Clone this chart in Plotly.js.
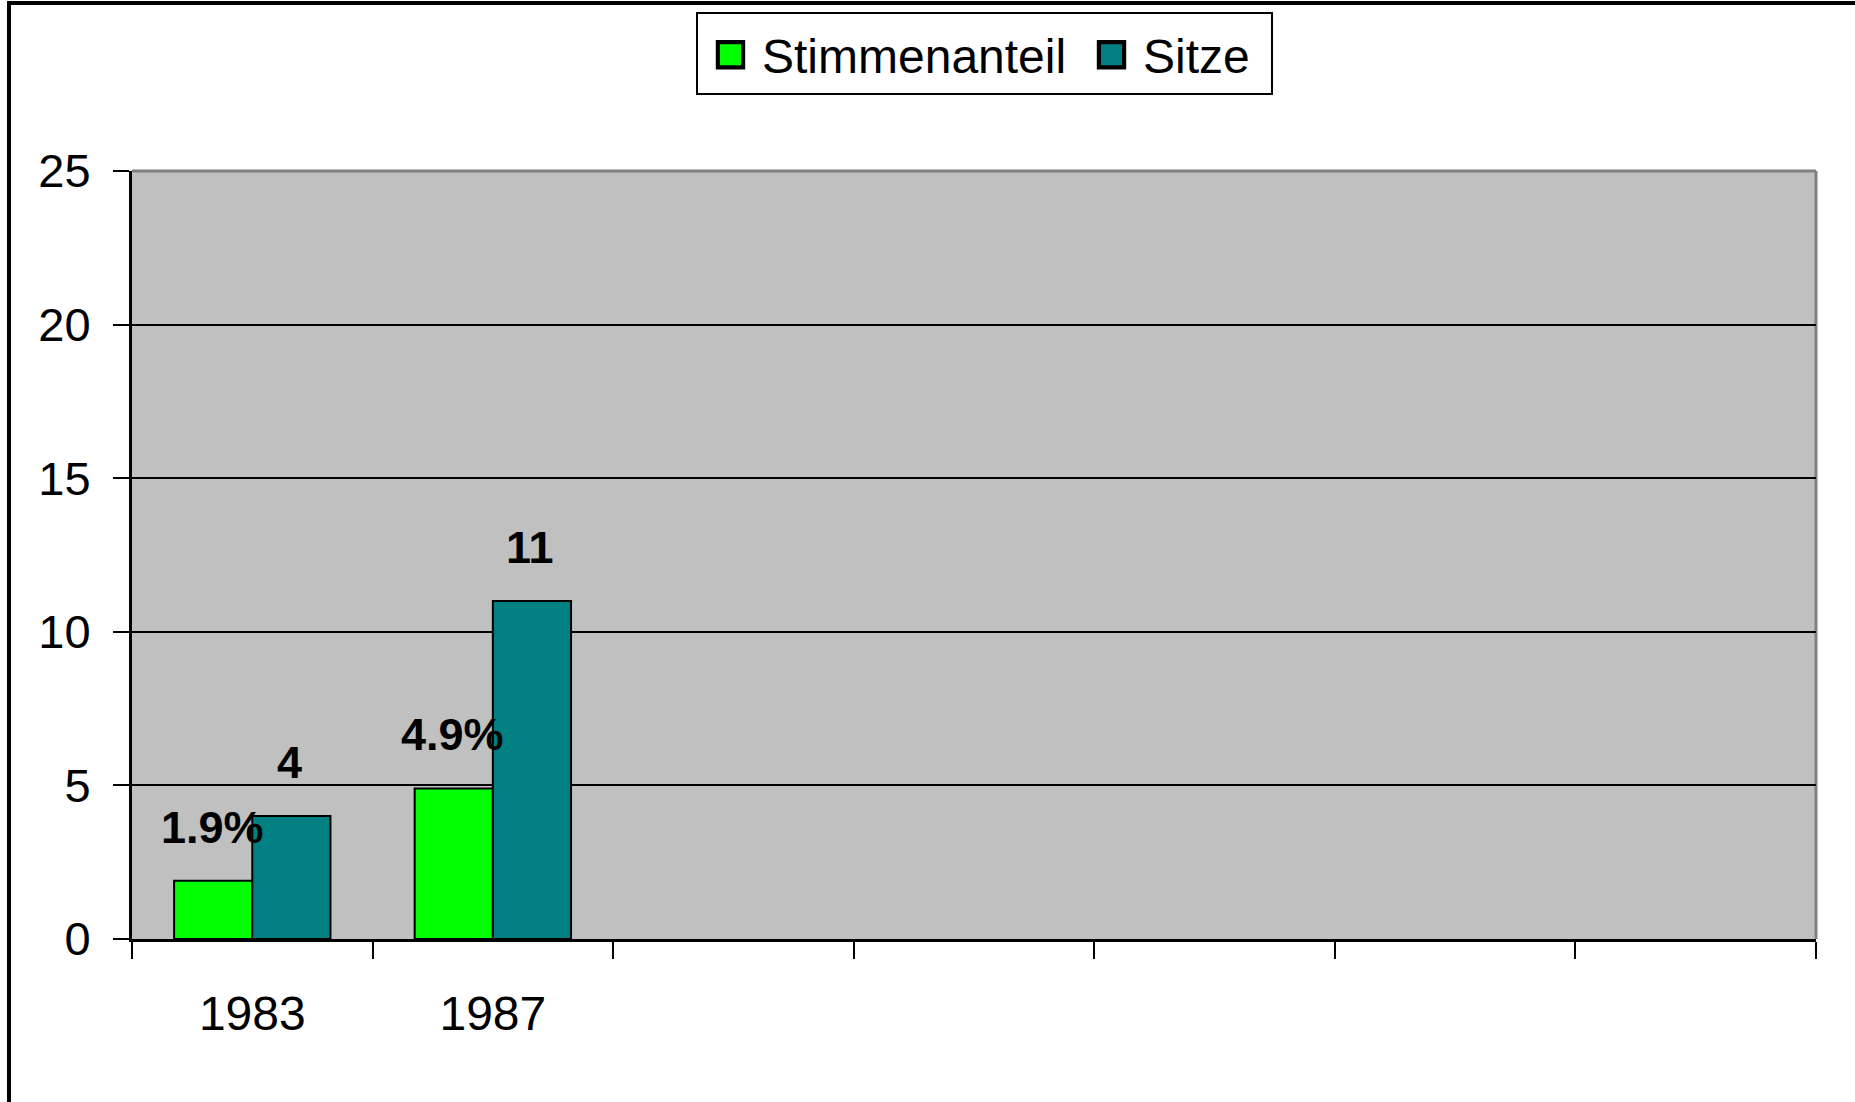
<!DOCTYPE html>
<html>
<head>
<meta charset="utf-8">
<script src="https://cdn.plot.ly/plotly-3.0.1.min.js"></script>
<style>
  html, body { margin: 0; padding: 0; background: #ffffff; }
  #chart { width: 1855px; height: 1102px; }
</style>
</head>
<body>
<div id="chart"></div>
<script>
// ---- Data ----
var categories = ['1983', '1987', ' ', '  ', '   ', '    ', '     '];
var years = ['1983', '1987'];
var stimmenanteil = [1.9, 4.9];
var stimmenLabels = ['1.9%', '4.9%'];
var sitze = [4, 11];
var sitzeLabels = ['4', '11'];
var seriesNames = ['Stimmenanteil', 'Sitze'];
var yTicks = [0, 5, 10, 15, 20, 25];

// ---- Layout constants ----
var W = 1855, H = 1102;
var M = { l: 132, r: 39, t: 171, b: 163 };
var plotW = W - M.l - M.r, plotH = H - M.t - M.b;
function px2paperX(px) { return (px - M.l) / plotW; }
function px2paperY(py) { return (H - M.b - py) / plotH; }

var BARGAP = 0.35;
var half = (1 - BARGAP) / 4; // offset of each bar centre from category centre

var font = 'Liberation Sans, Arial, sans-serif';

var traces = [
  {
    type: 'bar', name: seriesNames[0], x: years, y: stimmenanteil,
    marker: { color: '#00FF00', line: { color: '#000000', width: 2 } },
    hoverinfo: 'x+y'
  },
  {
    type: 'bar', name: seriesNames[1], x: years, y: sitze,
    marker: { color: '#008080', line: { color: '#000000', width: 2 } },
    hoverinfo: 'x+y'
  }
];

var annotations = [];
years.forEach(function (yr, i) {
  var idx = categories.indexOf(yr);
  annotations.push({
    x: idx - half, y: stimmenanteil[i], xref: 'x', yref: 'y',
    text: '<b>' + stimmenLabels[i] + '</b>', showarrow: false,
    yanchor: 'bottom', xanchor: 'center', yshift: 26, xshift: -1,
    font: { family: font, size: 45, color: '#000000' }
  });
  annotations.push({
    x: idx + half, y: sitze[i], xref: 'x', yref: 'y',
    text: '<b>' + sitzeLabels[i] + '</b>', showarrow: false,
    yanchor: 'bottom', xanchor: 'center', yshift: 26, xshift: -2,
    font: { family: font, size: 45, color: '#000000' }
  });
});

var shapes = [
  // grey top and right edges of the plot area
  { type: 'line', xref: 'paper', yref: 'paper', x0: 0, x1: 1, y0: 1, y1: 1,
    line: { color: '#808080', width: 3 }, layer: 'between' },
  { type: 'line', xref: 'paper', yref: 'paper', x0: 1, x1: 1, y0: 0, y1: 1,
    line: { color: '#808080', width: 3 }, layer: 'between' },
  // outer chart frame (left and top edges visible)
  { type: 'path', xref: 'paper', yref: 'paper',
    path: 'M ' + px2paperX(W + 20) + ' ' + px2paperY(3) +
          ' L ' + px2paperX(9) + ' ' + px2paperY(3) +
          ' L ' + px2paperX(9) + ' ' + px2paperY(H + 20),
    line: { color: '#000000', width: 4 } },
  // legend frame
  { type: 'rect', xref: 'paper', yref: 'paper',
    x0: px2paperX(697), x1: px2paperX(1272), y0: px2paperY(13), y1: px2paperY(94),
    line: { color: '#000000', width: 2 }, fillcolor: '#ffffff', layer: 'above' }
];

var layout = {
  width: W, height: H,
  margin: M,
  paper_bgcolor: '#ffffff',
  plot_bgcolor: '#C0C0C0',
  font: { family: font, size: 48, color: '#000000' },
  barmode: 'group',
  bargap: BARGAP,
  bargroupgap: 0,
  showlegend: true,
  legend: {
    orientation: 'h',
    x: px2paperX(699), xanchor: 'left',
    y: px2paperY(17), yanchor: 'top',
    bgcolor: 'rgba(0,0,0,0)', borderwidth: 0,
    itemwidth: 53,
    entrywidth: 313, entrywidthmode: 'pixels',
    font: { family: font, size: 48, color: '#000000' },
    traceorder: 'normal'
  },
  xaxis: {
    type: 'category',
    categoryorder: 'array', categoryarray: categories,
    range: [-0.5, categories.length - 0.5],
    tickson: 'boundaries',
    ticks: 'outside', ticklen: 17, tickwidth: 2, tickcolor: '#000000',
    showline: true, linecolor: '#000000', linewidth: 3,
    showgrid: false, zeroline: false,
    ticklabelstandoff: 30,
    tickfont: { family: font, size: 48, color: '#000000' },
    fixedrange: true
  },
  yaxis: {
    range: [0, 25],
    tickvals: yTicks, ticktext: yTicks.map(String),
    ticks: 'outside', ticklen: 16, tickwidth: 2, tickcolor: '#000000',
    showline: true, linecolor: '#000000', linewidth: 3,
    showgrid: true, gridcolor: '#000000', gridwidth: 2,
    zeroline: false,
    ticklabelstandoff: 13,
    tickfont: { family: font, size: 47, color: '#000000' },
    fixedrange: true
  },
  annotations: annotations,
  shapes: shapes
};

Plotly.newPlot('chart', traces, layout, { displayModeBar: false, staticPlot: true }).then(function () {
  // enlarge legend swatches to match the reference (keep Plotly's own translate)
  document.querySelectorAll('.legend .legendpoints path').forEach(function (p) {
    var t = p.getAttribute('transform') || '';
    p.setAttribute('transform', t + ' scale(2.1)');
  });
});
</script>
</body>
</html>
